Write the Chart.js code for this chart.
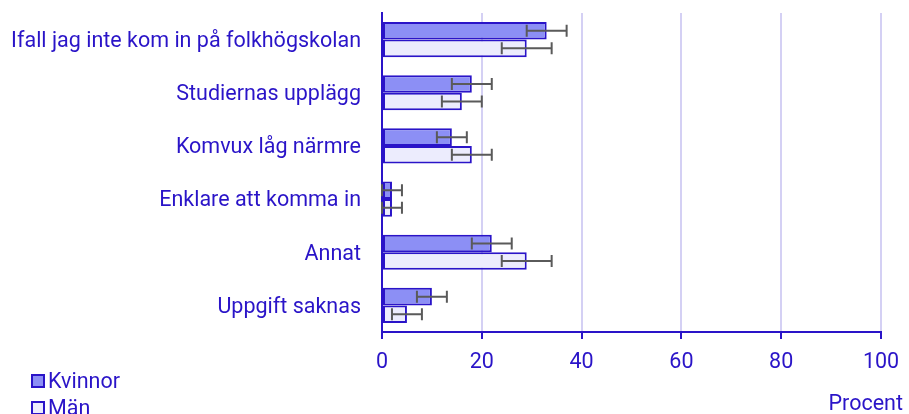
<!DOCTYPE html>
<html lang="sv">
<head>
    <meta charset="UTF-8">
    <title>Procent</title>
    <script src="https://cdn.jsdelivr.net/npm/chart.js"></script>
    <style>
        body {
            margin: 0;
            font-family: Roboto, sans-serif;
            background: #fff;
        }
        .wrap {
            position: relative;
            width: 909px;
            height: 414px;
            overflow: hidden;
        }
        .legend {
            position: absolute;
            left: 31px;
            top: 367px;
            color: #2a14c8;
            font-size: 21.5px;
        }
        .legend div {
            display: flex;
            align-items: center;
            height: 27px;
            line-height: 27px;
        }
        .legend span.box {
            display: inline-block;
            width: 10px;
            height: 10px;
            border: 2px solid #2a14c8;
            margin-right: 3px;
        }
        .unit {
            position: absolute;
            right: 6px;
            top: 392px;
            color: #2a14c8;
            font-size: 21.5px;
            line-height: 21.5px;
        }
    </style>
</head>
<body>
    <div class="wrap">
        <canvas id="chart" width="909" height="414"></canvas>
        <div class="legend">
            <div><span class="box" style="background:#8c8ff5"></span>Kvinnor</div>
            <div><span class="box" style="background:#ececfd"></span>Män</div>
        </div>
        <div class="unit">Procent</div>
    </div>

    <script>
        const categories = [
            'Ifall jag inte kom in på folkhögskolan',
            'Studiernas upplägg',
            'Komvux låg närmre',
            'Enklare att komma in',
            'Annat',
            'Uppgift saknas'
        ];
        const kvinnor = [33, 18, 14, 2, 22, 10];
        const kvinnorErr = [4, 4, 3, 2, 4, 3];
        const man = [29, 16, 18, 2, 29, 5];
        const manErr = [5, 4, 4, 2, 5, 3];
        const xTicks = [0, 20, 40, 60, 80, 100];

        const textColor = '#2a14c8';
        const font = { family: 'Roboto', size: 21.5 };

        // draws the error whiskers using the x scale
        const errorBars = {
            id: 'errorBars',
            afterDatasetsDraw(chart) {
                const ctx = chart.ctx;
                const x = chart.scales.x;
                chart.data.datasets.forEach((ds, i) => {
                    const meta = chart.getDatasetMeta(i);
                    meta.data.forEach((bar, j) => {
                        const v = ds.data[j];
                        const e = ds.errors[j];
                        const x1 = x.getPixelForValue(Math.max(0, v - e));
                        const x2 = x.getPixelForValue(v + e);
                        const y = bar.y;
                        ctx.save();
                        ctx.strokeStyle = '#5a5a5a';
                        ctx.lineWidth = 2;
                        ctx.beginPath();
                        ctx.moveTo(x1, y);
                        ctx.lineTo(x2, y);
                        ctx.moveTo(x1, y - 6);
                        ctx.lineTo(x1, y + 6);
                        ctx.moveTo(x2, y - 6);
                        ctx.lineTo(x2, y + 6);
                        ctx.stroke();
                        ctx.restore();
                    });
                });
            }
        };

        new Chart(document.getElementById('chart'), {
            type: 'bar',
            data: {
                labels: categories,
                datasets: [{
                    label: 'Kvinnor',
                    data: kvinnor,
                    errors: kvinnorErr,
                    backgroundColor: '#8c8ff5',
                    borderColor: textColor,
                    borderWidth: 2,
                    borderSkipped: false,
                    categoryPercentage: 0.66,
                    barPercentage: 1.0
                }, {
                    label: 'Män',
                    data: man,
                    errors: manErr,
                    backgroundColor: '#ececfd',
                    borderColor: textColor,
                    borderWidth: 2,
                    borderSkipped: false,
                    categoryPercentage: 0.66,
                    barPercentage: 1.0
                }]
            },
            options: {
                indexAxis: 'y',
                responsive: false,
                animation: false,
                layout: {
                    padding: { left: 0, right: 28, top: 13, bottom: 0 }
                },
                plugins: {
                    legend: { display: false },
                    tooltip: { enabled: false }
                },
                scales: {
                    x: {
                        min: 0,
                        max: 100,
                        afterBuildTicks: scale => {
                            scale.ticks = xTicks.map(v => ({ value: v }));
                        },
                        afterFit: scale => {
                            scale.height = 82;
                            scale.paddingLeft = 0;
                            scale.paddingRight = 0;
                        },
                        grid: {
                            color: '#d4d0f4',
                            lineWidth: 2,
                            tickColor: textColor,
                            tickWidth: 2,
                            tickLength: 7
                        },
                        border: { color: textColor, width: 2 },
                        ticks: {
                            color: textColor,
                            font: font,
                            padding: 11,
                            maxRotation: 0
                        }
                    },
                    y: {
                        afterFit: scale => {
                            scale.width = 382;
                            scale.paddingTop = 0;
                            scale.paddingBottom = 0;
                        },
                        grid: { display: false, drawTicks: false },
                        border: { color: textColor, width: 2 },
                        ticks: {
                            color: textColor,
                            font: font,
                            padding: 21,
                            labelOffset: 2
                        }
                    }
                }
            },
            plugins: [errorBars]
        });
    </script>
</body>
</html>
